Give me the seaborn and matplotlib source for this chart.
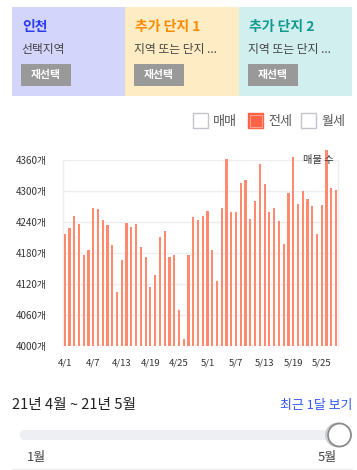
import matplotlib
matplotlib.use("Agg")
import matplotlib.pyplot as plt
from matplotlib.patches import Rectangle, FancyBboxPatch, Circle
import seaborn as sns
import pandas as pd

# ---------------- data ----------------
dates = ["4/1", "4/2", "4/3", "4/4", "4/5", "4/6", "4/7", "4/8", "4/9", "4/10",
         "4/11", "4/12", "4/13", "4/14", "4/15", "4/16", "4/17", "4/18", "4/19", "4/20",
         "4/21", "4/22", "4/23", "4/24", "4/25", "4/26", "4/27", "4/28", "4/29", "4/30",
         "5/1", "5/2", "5/3", "5/4", "5/5", "5/6", "5/7", "5/8", "5/9", "5/10",
         "5/11", "5/12", "5/13", "5/14", "5/15", "5/16", "5/17", "5/18", "5/19", "5/20",
         "5/21", "5/22", "5/23", "5/24", "5/25", "5/26", "5/27", "5/28"]
listings = [4216, 4228, 4251, 4235, 4175, 4185, 4266, 4265, 4243, 4234,
            4195, 4104, 4166, 4237, 4230, 4235, 4191, 4172, 4114, 4137,
            4210, 4222, 4172, 4175, 4069, 4013, 4175, 4249, 4243, 4251,
            4261, 4185, 4125, 4266, 4361, 4259, 4259, 4315, 4321, 4245,
            4281, 4353, 4314, 4260, 4267, 4242, 4197, 4296, 4366, 4275,
            4300, 4285, 4271, 4217, 4273, 4380, 4306, 4302]
x_tick_labels = ["4/1", "4/7", "4/13", "4/19", "4/25", "5/1", "5/7", "5/13", "5/19", "5/25"]
y_ticks = [4000, 4060, 4120, 4180, 4240, 4300, 4360]
panel_titles = ["인천", "추가 단지 1", "추가 단지 2"]
panel_subtitles = ["선택지역", "지역 또는 단지 ...", "지역 또는 단지 ..."]
legend_labels = ["매매", "전세", "월세"]

# ---------------- style ----------------
sns.set_theme(style="white")
plt.rcParams["font.family"] = ["Noto Sans CJK KR", "DejaVu Sans"]

W, H = 357, 470
fig = plt.figure(figsize=(W / 100, H / 100), dpi=100)
fig.patch.set_facecolor("white")

# overlay in pixel coordinates
ax0 = fig.add_axes([0, 0, 1, 1])
ax0.set_xlim(0, W)
ax0.set_ylim(H, 0)
ax0.axis("off")

# header panels
panel_bg = ["#d3d5fa", "#fdecc4", "#d0efee"]
title_col = ["#2b3cf0", "#ff8a00", "#11998e"]
panel_x = [12, 125, 239]
panel_w = [113, 114, 113]
for i in range(3):
    ax0.add_patch(Rectangle((panel_x[i], 7), panel_w[i], 89, facecolor=panel_bg[i],
                            edgecolor="none"))
    tx = panel_x[i] + 10
    ax0.text(tx, 27, panel_titles[i], color=title_col[i], fontsize=10,
             fontweight="bold", va="center", ha="left")
    ax0.text(tx - 1, 50, panel_subtitles[i], color="#444444", fontsize=8.5,
             va="center", ha="left")
    ax0.add_patch(Rectangle((tx - 1, 64), 50, 22, facecolor="#999999", edgecolor="none"))
    ax0.text(tx + 24, 75, "재선택", color="white", fontsize=7.8, fontweight="bold",
             va="center", ha="center")

# legend (checkboxes)
box_x = [193, 248, 301]
for i in range(3):
    if i == 1:
        ax0.add_patch(Rectangle((box_x[i], 113), 15, 15, facecolor="#ff6347",
                                edgecolor="#ff6347", lw=1.0))
        ax0.add_patch(Rectangle((box_x[i] + 1.5, 114.5), 12, 12, facecolor="#ff6347",
                                edgecolor="#ffb0a0", lw=0.6))
    else:
        ax0.add_patch(Rectangle((box_x[i], 113), 15, 15, facecolor="white",
                                edgecolor="#c4c4cc", lw=1.0))
    ax0.text(box_x[i] + 20, 121, legend_labels[i], color="#555555", fontsize=9.4,
             va="center", ha="left")

# bottom controls
ax0.text(12, 405, "21년 4월 ~ 21년 5월", color="#222222", fontsize=10.6,
         va="center", ha="left")
ax0.text(352, 405, "최근 1달 보기", color="#3355ee", fontsize=9.3,
         va="center", ha="right")
ax0.add_patch(FancyBboxPatch((20, 430), 325, 10,
                             boxstyle="round,pad=0,rounding_size=5",
                             facecolor="#eeeff2", edgecolor="none"))
ax0.add_patch(Circle((337.5, 435), 11.5, facecolor="white", edgecolor="#c8c8c8", lw=1.2))
ax0.add_patch(Circle((339.5, 435), 11.5, facecolor="white", edgecolor="#8a8a8a", lw=1.3))
ax0.text(36.5, 458, "1월", color="#444444", fontsize=9.4, va="center", ha="center")
ax0.text(327.5, 458, "5월", color="#444444", fontsize=9.4, va="center", ha="center")
ax0.plot([12, 352], [469, 469], color="#eeeeee", lw=1)

# ---------------- chart ----------------
left, right, top, bottom = 63, 338, 160, 345.7
ax = fig.add_axes([left / W, 1 - bottom / H, (right - left) / W, (bottom - top) / H])
ax.patch.set_alpha(0)

df = pd.DataFrame({"date": dates, "count": listings})
sns.barplot(data=df, x="date", y="count", color="#ff8a70", saturation=1,
            width=0.46, ax=ax, zorder=3)

clip = Rectangle((0, 0), 1, 1.2, transform=ax.transAxes, facecolor="none")
for p in ax.patches:
    p.set_clip_path(clip)
    p.set_edgecolor("none")
    p.set_facecolor("#ff8a70")

ax.set_xlim(-0.36, len(dates) - 1 + 0.42)
ax.set_ylim(4000, 4360)
ax.set_yticks(y_ticks)
ax.set_yticklabels([f"{v}개" for v in y_ticks])
ax.set_xticks([dates.index(t) for t in x_tick_labels])
ax.set_xticklabels(x_tick_labels)
ax.tick_params(axis="y", length=0, pad=11.5, labelsize=7.0, labelcolor="#333333")
ax.tick_params(axis="x", length=0, pad=9, labelsize=6.9, labelcolor="#333333")
ax.set_xlabel("")
ax.set_ylabel("")
ax.yaxis.grid(True, color="#eeeeee", lw=1, zorder=0)
ax.set_axisbelow(True)
for s in ["top", "bottom"]:
    ax.spines[s].set_visible(False)
for s in ["left", "right"]:
    ax.spines[s].set_color("#eeeeee")
    ax.spines[s].set_linewidth(1)

ax.text(0.985, 1.0, "매물 수", transform=ax.transAxes, ha="right", va="center",
        fontsize=7.4, color="#333333", zorder=5)

fig.savefig("out.png", dpi=100, facecolor="white")
